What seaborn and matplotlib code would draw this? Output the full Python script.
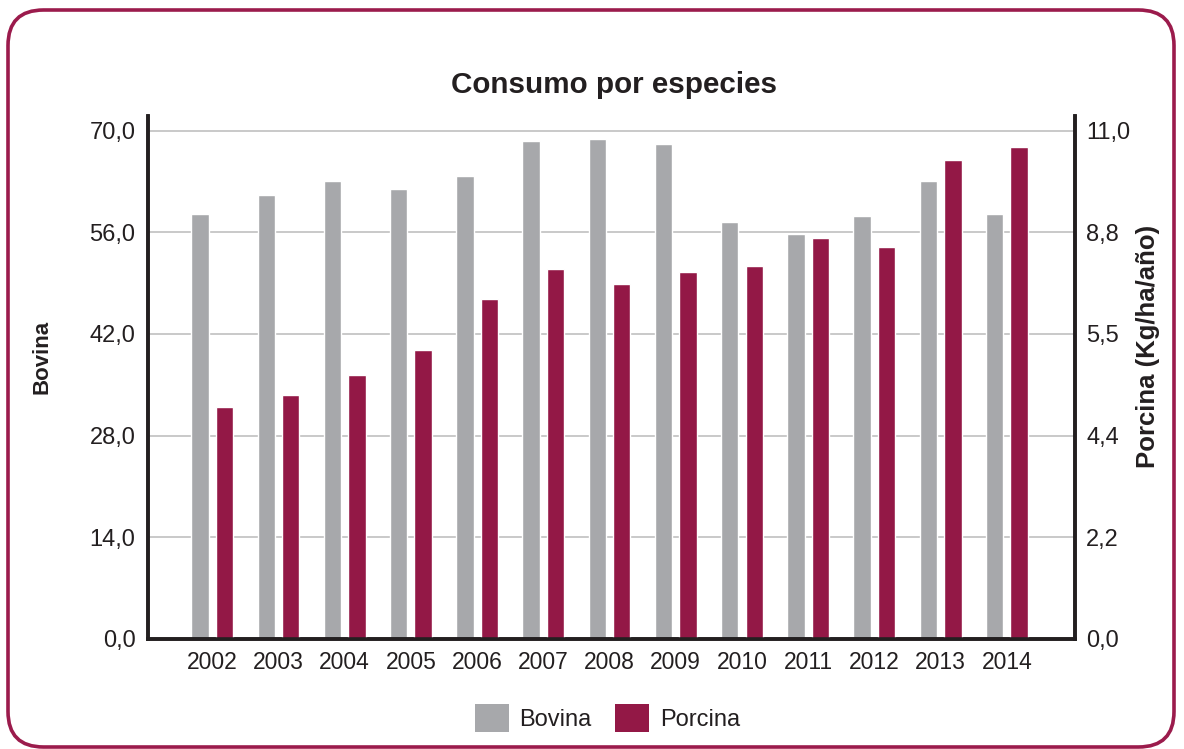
import matplotlib
matplotlib.use("Agg")
import matplotlib.pyplot as plt
from matplotlib.patches import FancyBboxPatch, Patch
import seaborn as sns
import pandas as pd

years = ["2002", "2003", "2004", "2005", "2006", "2007", "2008",
         "2009", "2010", "2011", "2012", "2013", "2014"]
bovina = [58.5, 61.1, 63.1, 62.0, 63.7, 68.5, 68.9, 68.1, 57.4, 55.7, 58.2, 63.0, 58.5]
porcina = [5.01, 5.27, 5.71, 6.25, 7.35, 8.00, 7.67, 7.95, 8.06, 8.67, 8.47, 10.37, 10.65]

left_ticks = [0, 14, 28, 42, 56, 70]
left_labels = ["0,0", "14,0", "28,0", "42,0", "56,0", "70,0"]
right_ticks = [0, 2.2, 4.4, 6.6, 8.8, 11.0]
right_labels = ["0,0", "2,2", "4,4", "5,5", "8,8", "11,0"]

GRAY = "#A7A8AB"
CRIMSON = "#931846"
TEXT = "#231F20"
species_order = ["Bovina", "Porcina"]
palette = {"Bovina": GRAY, "Porcina": CRIMSON}

df_b = pd.DataFrame({"year": years, "value": bovina, "species": "Bovina"})
df_p = pd.DataFrame({"year": years, "value": porcina, "species": "Porcina"})

sns.set_style("white")
plt.rcParams["font.family"] = ["Liberation Sans", "DejaVu Sans"]

fig = plt.figure(figsize=(11.84, 7.49), dpi=100)
ax = fig.add_axes([0.125, 0.1469, 0.783, 0.6982])
ax2 = ax.twinx()

sns.barplot(data=df_b, x="year", y="value", hue="species", hue_order=species_order,
            palette=palette, dodge=True, width=0.74, gap=0.29, ax=ax,
            legend=False, saturation=1)
sns.barplot(data=df_p, x="year", y="value", hue="species", hue_order=species_order,
            palette=palette, dodge=True, width=0.74, gap=0.29, ax=ax2,
            legend=False, saturation=1)

ymax = 72
ax.set_ylim(0, ymax)
ax2.set_ylim(0, ymax * 11.0 / 70.0)
ax.set_xlim(-0.97, 13.03)

ax.set_yticks(left_ticks)
ax.set_yticklabels(left_labels)
ax2.set_yticks(right_ticks)
ax2.set_yticklabels(right_labels)

ax.set_axisbelow(True)
ax.yaxis.grid(True, color="#C9C9C9", linewidth=1.4)
ax.xaxis.grid(False)
ax2.grid(False)

for a in (ax, ax2):
    a.set_xlabel("")
    a.set_ylabel("")
    a.spines["top"].set_visible(False)
    for s in ("left", "right", "bottom"):
        a.spines[s].set_color(TEXT)
        a.spines[s].set_linewidth(2.6)
    a.tick_params(axis="both", length=0, colors=TEXT)

ax.tick_params(axis="y", labelsize=17, pad=9)
ax2.tick_params(axis="y", labelsize=17, pad=8)
ax.tick_params(axis="x", labelsize=16.5, pad=9)
ax2.tick_params(axis="x", labelbottom=False)
ax.patch.set_alpha(0)
ax2.patch.set_alpha(0)

fig.text(0.519, 0.887, "Consumo por especies", ha="center", va="center",
         fontsize=21.3, fontweight="bold", color=TEXT)
fig.text(0.0355, 0.523, "Bovina", rotation=90, ha="center", va="center",
         fontsize=16, fontweight="bold", color=TEXT)
fig.text(0.9696, 0.538, "Porcina (Kg/ha/año)", rotation=90, ha="center", va="center",
         fontsize=18.5, fontweight="bold", color=TEXT)

handles = [Patch(facecolor=GRAY, edgecolor="none", label="Bovina"),
           Patch(facecolor=CRIMSON, edgecolor="none", label="Porcina")]
fig.legend(handles=handles, loc="center", bbox_to_anchor=(0.513, 0.041), ncol=2,
           frameon=False, fontsize=17, handlelength=1.45, handleheight=1.45,
           handletextpad=0.45, columnspacing=1.0, labelcolor=TEXT)

frame = FancyBboxPatch((8 / 1184, 2 / 749), 1166 / 1184, 737 / 749,
                       boxstyle="round,pad=0,rounding_size=0.03",
                       transform=fig.transFigure, facecolor="none",
                       edgecolor="#9B1B4C", linewidth=2.6, mutation_aspect=1184 / 749)
fig.patches.append(frame)

fig.savefig("out.png", dpi=100)
